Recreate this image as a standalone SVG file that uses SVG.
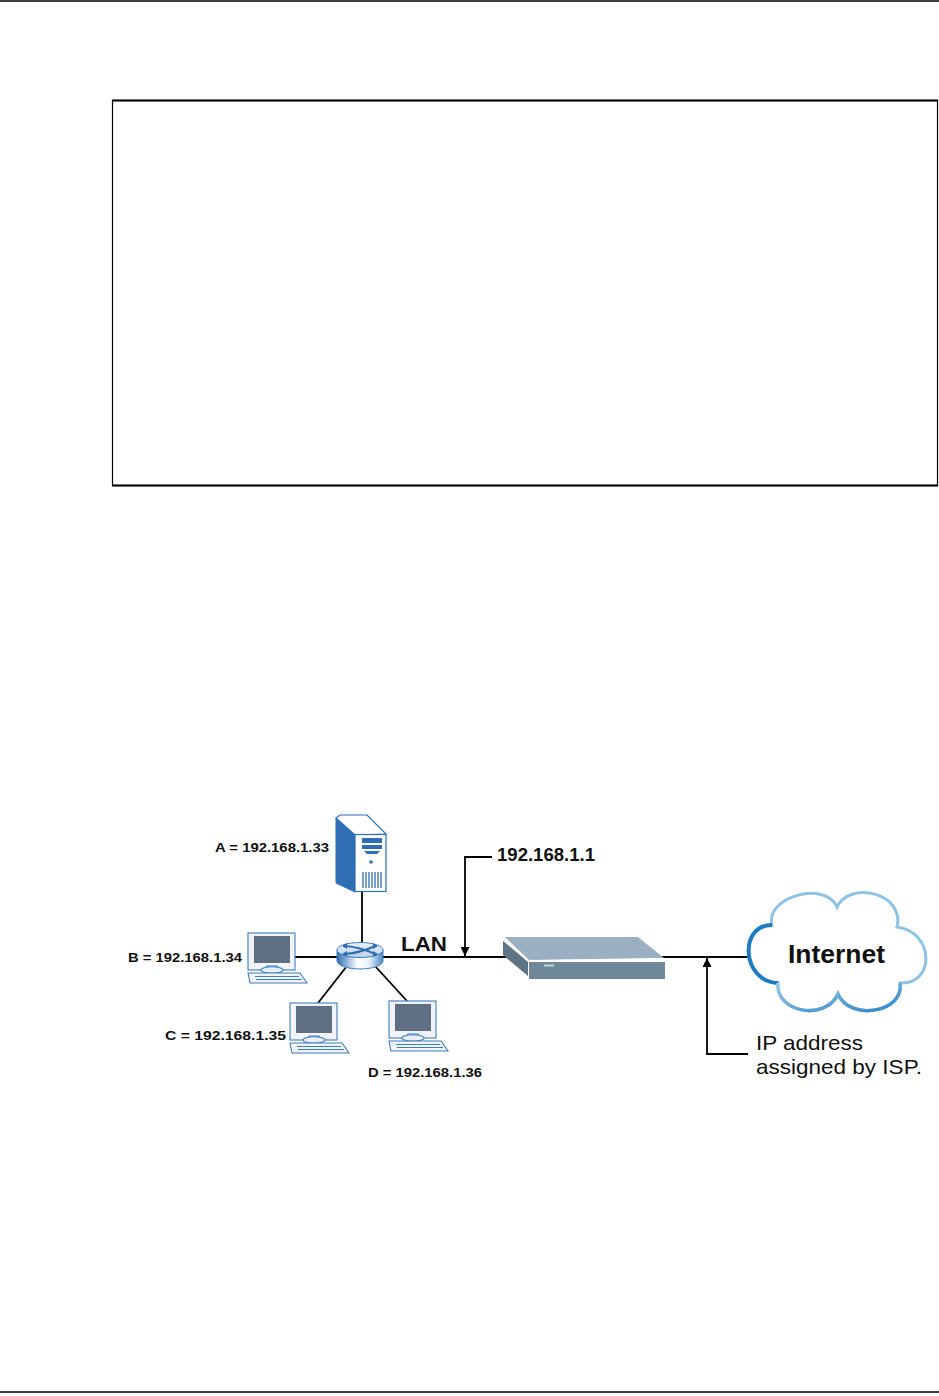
<svg xmlns="http://www.w3.org/2000/svg" width="939" height="1396" viewBox="0 0 939 1396">
<style>
.conn{stroke:#000;stroke-width:1.8;fill:none}
.lbl{font-family:"Liberation Sans",Arial,sans-serif;font-weight:bold;font-size:13px;fill:#111}
.big{font-family:"Liberation Sans",Arial,sans-serif;fill:#111}
.bl{stroke:#3C7DC0;stroke-width:1.1}
</style>
<defs>
<marker id="arr" viewBox="0 0 10 10" refX="10" refY="5" markerWidth="9" markerHeight="9" markerUnits="userSpaceOnUse" orient="auto">
<path d="M0,0 L10,5 L0,10 Z" fill="#000"/>
</marker>
<g id="pc">
<rect x="0" y="0" width="47" height="37" fill="#F1F3F6" class="bl"/>
<rect x="6" y="3" width="36" height="27" fill="#5E6E83"/>
<path d="M19,33 L29,33 L31,36 L17,36 Z" fill="#E4EAF1" class="bl"/>
<ellipse cx="24" cy="37" rx="11" ry="3.2" fill="#E8EEF4" class="bl"/>
<polygon points="0,40 52,40 59,50 2,50" fill="#F1F3F6" class="bl"/>
<line x1="7" y1="43.5" x2="51" y2="43.5" class="bl"/>
<line x1="8" y1="46.5" x2="54" y2="46.5" class="bl"/>
</g>
<linearGradient id="cloudg" x1="0" y1="0" x2="1" y2="1">
<stop offset="0" stop-color="#9CCBEA"/>
<stop offset="1" stop-color="#2F86C8"/>
</linearGradient>
<linearGradient id="hubside" x1="0" y1="0" x2="1" y2="0">
<stop offset="0" stop-color="#2F6DB5"/>
<stop offset="0.45" stop-color="#FFFFFF"/>
<stop offset="0.7" stop-color="#E6F0F8"/>
<stop offset="1" stop-color="#4F8AC6"/>
</linearGradient>
<linearGradient id="hubtop" x1="0" y1="0" x2="0" y2="1">
<stop offset="0" stop-color="#EAF2F9"/>
<stop offset="1" stop-color="#B9D3EA"/>
</linearGradient>
</defs>
<rect width="939" height="1396" fill="#fff"/>
<line x1="0" y1="1" x2="939" y2="1" stroke="#000" stroke-width="1.5"/>
<line x1="0" y1="1392" x2="939" y2="1392" stroke="#000" stroke-width="1.5"/>
<rect x="112.5" y="100.5" width="825" height="385" fill="none" stroke="#000" stroke-width="1.2"/>
<line x1="112" y1="100.5" x2="938" y2="100.5" stroke="#000" stroke-width="1.8"/>
<line x1="112" y1="485.5" x2="938" y2="485.5" stroke="#000" stroke-width="1.8"/>

<g id="connectors">
<line x1="362" y1="892" x2="362" y2="944" class="conn"/>
<line x1="295" y1="957" x2="338" y2="957" class="conn"/>
<line x1="347" y1="966" x2="318" y2="1003" class="conn"/>
<line x1="375" y1="966" x2="407" y2="1001" class="conn"/>
<line x1="382" y1="957" x2="510" y2="957" class="conn"/>
<line x1="660" y1="957" x2="750" y2="957" class="conn"/>
<polyline points="492,857 465,857 465,956" class="conn" marker-end="url(#arr)"/>
<polyline points="748,1054 707,1054 707,958" class="conn" marker-end="url(#arr)"/>
</g>

<g id="server-A">
<polygon points="336,818 355,835 355,892 336,883" fill="#2F6DB5" stroke="#2F6DB5" stroke-width="1"/>
<polygon points="340,815 367,815 386,834 355,835 336,818" fill="#fff" stroke="#2F6DB5" stroke-width="1.2"/>
<rect x="355" y="834.5" width="31" height="57" fill="#fff" stroke="#2F6DB5" stroke-width="1.2"/>
<rect x="362" y="838" width="20" height="5" fill="#2F6DB5"/>
<rect x="362" y="845" width="20" height="4" fill="#2F6DB5"/>
<path d="M364,851 L380,851 L377,854 L367,854 Z" fill="#2F6DB5"/>
<circle cx="371" cy="862" r="1.8" fill="#2F6DB5"/>
<g stroke="#2F6DB5" stroke-width="1.3">
<line x1="363" y1="872" x2="363" y2="888"/>
<line x1="366" y1="872" x2="366" y2="888"/>
<line x1="369" y1="872" x2="369" y2="888"/>
<line x1="372" y1="872" x2="372" y2="888"/>
<line x1="375" y1="872" x2="375" y2="888"/>
<line x1="378" y1="872" x2="378" y2="888"/>
<line x1="381" y1="872" x2="381" y2="888"/>
</g>
<text x="215" y="852" class="lbl" textLength="114" lengthAdjust="spacingAndGlyphs">A = 192.168.1.33</text>
</g>

<g id="hub">
<path d="M337,950 L337,961 A23,8 0 0 0 383,961 L383,950 Z" fill="url(#hubside)" stroke="#3C7DC0" stroke-width="1"/>
<ellipse cx="360" cy="950" rx="23" ry="7.5" fill="url(#hubtop)" stroke="#3C7DC0" stroke-width="1"/>
<g stroke="#2F6DB5" stroke-width="2" fill="none">
<path d="M345,946 Q360,947 375,954"/>
<path d="M345,954 Q360,953 375,946"/>
</g>
<path d="M342,946 l5,-3 l0,6 Z M342,954 l5,-3 l0,6 Z M378,946 l-5,-3 l0,6 Z M378,954 l-5,-3 l0,6 Z" fill="#2F6DB5"/>
</g>

<g id="pc-B">
<use href="#pc" x="248" y="933"/>
<text x="128" y="962" class="lbl" textLength="114" lengthAdjust="spacingAndGlyphs">B = 192.168.1.34</text>
</g>
<g id="pc-C">
<use href="#pc" x="290" y="1003"/>
<text x="165" y="1040" class="lbl" textLength="121" lengthAdjust="spacingAndGlyphs">C  = 192.168.1.35</text>
</g>
<g id="pc-D">
<use href="#pc" x="389" y="1001"/>
<text x="368" y="1077" class="lbl" textLength="114" lengthAdjust="spacingAndGlyphs">D = 192.168.1.36</text>
</g>

<g id="lan-label">
<text x="401" y="951" class="big" font-size="21" font-weight="bold" textLength="46" lengthAdjust="spacingAndGlyphs">LAN</text>
</g>
<g id="lan-ip-label">
<text x="497" y="861" class="big" font-size="18" font-weight="bold" textLength="98" lengthAdjust="spacingAndGlyphs">192.168.1.1</text>
</g>

<g id="router">
<polygon points="503,940 528,961 528,976 503,955" fill="#5E7384"/>
<polygon points="505,937 638,937 664,958 529,960" fill="#9AB0C2"/>
<polyline points="503,940 528,961 664,959" fill="none" stroke="#fff" stroke-width="1.4"/>
<rect x="529" y="962" width="136" height="17" fill="#6E8799"/>
<rect x="544" y="964.5" width="10" height="2" fill="#C8D2DA"/>
</g>

<g id="internet">
<path d="M772,925 C765,897 825,880 837,907 C850,880 905,893 897,927 C935,932 935,985 900,983 C905,1012 850,1022 838,994 C825,1022 775,1012 778,983 C742,982 738,925 772,925 Z" fill="#fff" stroke="#8EC2E6" stroke-width="3"/>
<path d="M778,983 C742,982 738,925 772,925" fill="none" stroke="#1E7BC2" stroke-width="4"/>
<path d="M900,983 C905,1012 850,1022 838,994 C825,1022 775,1012 778,983" fill="none" stroke="url(#cloudg)" stroke-width="3.5"/>
<text x="788" y="963" class="big" font-size="25" font-weight="bold" textLength="97" lengthAdjust="spacingAndGlyphs">Internet</text>
</g>

<g id="isp-label">
<text x="756" y="1050" class="big" font-size="21" textLength="107" lengthAdjust="spacingAndGlyphs">IP address</text>
<text x="756" y="1074" class="big" font-size="21" textLength="166" lengthAdjust="spacingAndGlyphs">assigned by ISP.</text>
</g>
</svg>
